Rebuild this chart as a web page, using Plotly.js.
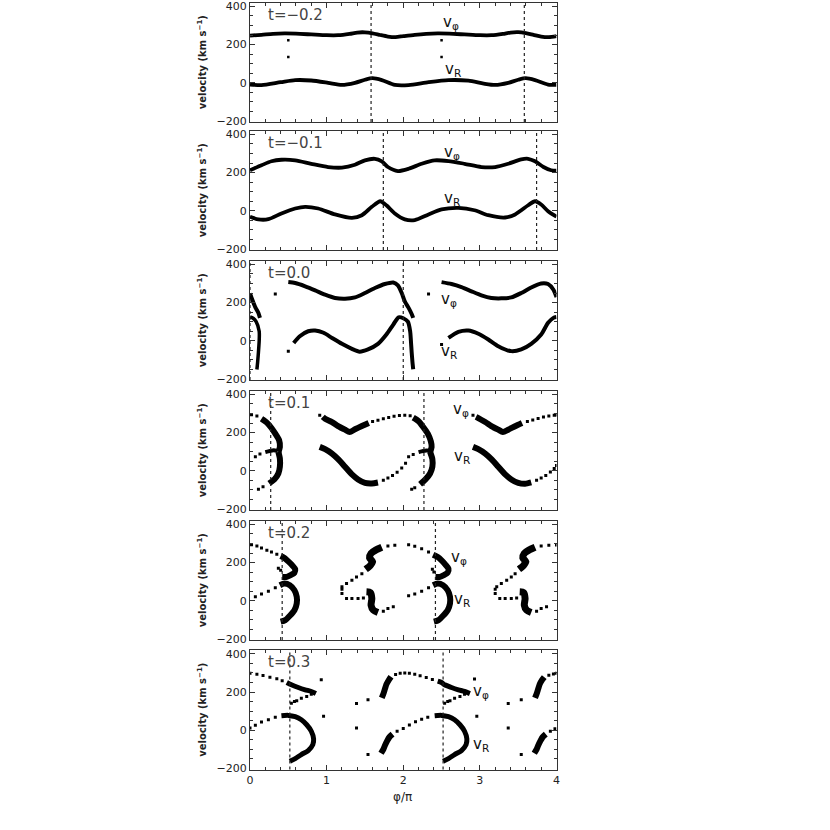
<!DOCTYPE html>
<html>
<head>
<meta charset="utf-8">
<script src="https://cdn.plot.ly/plotly-3.0.1.min.js"></script>
<style>html,body{margin:0;padding:0;background:#fff;}#chart{width:830px;height:830px;}</style>
</head>
<body>
<div id="chart"></div>
<script>
// ---------------- DATA ----------------
const panelLabels = ["t=\u22120.2", "t=\u22120.1", "t=0.0", "t=0.1", "t=0.2", "t=0.3"];
const xTickVals = [0, 1, 2, 3, 4];
const yTickVals = [-200, 0, 200, 400];
const vlineX = [[1.58, 3.58], [1.74, 3.74], [0.0, 2.0], [0.27, 2.27], [0.42, 2.42], [0.52, 2.52]];

// panel 1 (t=-0.2)
const p1_vphi_x = [0,0.15,0.3,0.45,0.6,0.8,1.0,1.15,1.3,1.4,1.5,1.6,1.7,1.8,1.9,2.0,2.15,2.3,2.45,2.6,2.8,3.0,3.15,3.3,3.4,3.5,3.6,3.7,3.8,3.9,4.0];
const p1_vphi_y = [247,251,256,258,257,253,249,249,256,263,264,259,250,242,239,244,251,256,258,257,253,249,249,256,263,265,260,251,242,239,244];
const p1_vR_x = [0,0.15,0.4,0.59,0.8,1.02,1.2,1.37,1.5,1.6,1.72,1.89,2.07,2.33,2.59,2.85,3.05,3.2,3.37,3.5,3.6,3.72,3.89,4.0];
const p1_vR_y = [-9,-12,3,14,12,0,-11,0,16,24,14,-11,-12,3,14,11,-4,-11,0,16,24,14,-9,-11];
const p1_dots_x = [0.5,0.5,2.5,2.5];
const p1_dots_y = [222,135,222,135];

// panel 2 (t=-0.1)
const p2_vphi_x = [0,0.15,0.28,0.41,0.59,0.8,1.02,1.2,1.37,1.5,1.63,1.72,1.8,1.93,2.07,2.24,2.41,2.59,2.8,3.02,3.2,3.37,3.54,3.63,3.72,3.83,3.93,4.0];
const p2_vphi_y = [212,238,259,267,264,246,229,226,241,264,272,259,229,208,220,246,264,260,246,229,229,246,269,272,259,229,212,210];
const p2_vR_x = [0,0.11,0.24,0.41,0.59,0.72,0.89,1.11,1.33,1.46,1.59,1.7,1.78,1.89,2.02,2.15,2.33,2.5,2.72,2.93,3.11,3.33,3.46,3.63,3.72,3.8,3.89,4.0];
const p2_vR_y = [-31,-45,-44,-14,12,21,12,-19,-37,-23,21,50,29,-14,-45,-49,-19,7,15,3,-23,-35,-19,29,50,33,-2,-31];

// panel 3 (t=0.0)
const p3_vphi_a_x = [0,0.03,0.07,0.11,0.13];
const p3_vphi_a_y = [248,215,175,145,120];
const p3_vR_a_x = [0,0.04,0.08,0.12,0.12,0.11,0.1,0.09];
const p3_vR_a_y = [125,118,100,50,0,-60,-110,-150];
const p3_vphi_b_x = [0.5,0.59,0.72,0.85,0.98,1.11,1.24,1.37,1.5,1.63,1.76,1.87,1.93,1.98,2.02,2.07,2.11,2.13];
const p3_vphi_b_y = [307,302,285,264,241,224,220,227,250,276,297,305,290,250,206,172,140,120];
const p3_vR_b_x = [0.57,0.65,0.76,0.85,0.96,1.07,1.2,1.33,1.43,1.54,1.67,1.78,1.87,1.94,2.0,2.06,2.09,2.1,2.11,2.12,2.13];
const p3_vR_b_y = [-11,24,50,54,42,15,-16,-42,-57,-45,-16,33,85,123,118,100,50,0,-60,-110,-149];
const p3_vphi_c_x = [2.5,2.63,2.76,2.89,3.02,3.15,3.28,3.41,3.54,3.67,3.8,3.89,3.96,4.0];
const p3_vphi_c_y = [307,297,281,259,238,224,222,227,250,279,300,297,267,228];
const p3_vR_c_x = [2.59,2.72,2.85,2.98,3.11,3.24,3.41,3.54,3.67,3.8,3.89,3.96,4.0];
const p3_vR_c_y = [15,47,54,37,7,-28,-54,-45,-16,33,94,120,125];
const p3_dots_x = [0.33,0.5,2.33,2.5];
const p3_dots_y = [245,-54,245,-19];

// panel 4 (t=0.1)
const p4_b1_phi_x = [0.15,0.22,0.28,0.33,0.38,0.39,0.37];
const p4_b1_phi_y = [272,252,224,194,160,125,99];
const p4_b1_R_x = [0.37,0.39,0.39,0.37,0.32,0.25];
const p4_b1_R_y = [99,64,21,-14,-44,-66];
const p4_b1_br_x = [0.2,0.26,0.31,0.36];
const p4_b1_br_y = [98,104,107,104];
const p4_b1_dots_x = [0.02,0.09,0.17,0.11,0.07,0.13];
const p4_b1_dots_y = [293,286,-83,-96,73,88];
const p4_m1_phi_x = [0.95,0.98,1.07,1.15,1.24,1.3,1.37,1.46,1.55];
const p4_m1_phi_y = [282,272,255,234,215,203,217,234,250];
const p4_m1_phi_dots_x = [0.91,1.6,1.67,1.74,1.81,1.88,1.95,2.02,2.09];
const p4_m1_phi_dots_y = [290,258,264,272,279,285,289,290,288];
const p4_m1_R_x = [0.91,0.98,1.07,1.15,1.24,1.33,1.41,1.5,1.59,1.67];
const p4_m1_R_y = [125,113,90,61,21,-19,-45,-63,-66,-61];
const p4_m1_R_dots_x = [1.74,1.8,1.86,1.92,1.98,2.03,2.07,2.13];
const p4_m1_R_dots_y = [-50,-37,-24,-8,15,40,73,85];
const p4_b2_phi_x = [2.13,2.2,2.26,2.32,2.36,2.37,2.35];
const p4_b2_phi_y = [278,259,229,194,154,125,99];
const p4_b2_R_x = [2.35,2.38,2.38,2.35,2.29,2.22];
const p4_b2_R_y = [99,61,21,-14,-45,-70];
const p4_b2_br_x = [2.2,2.26,2.31,2.35];
const p4_b2_br_y = [98,104,106,102];
const p4_b2_dots_x = [2.15,2.11];
const p4_b2_dots_y = [-89,-96];
const p4_m2_phi_x = [2.95,2.98,3.07,3.15,3.24,3.3,3.37,3.46,3.55];
const p4_m2_phi_y = [282,276,255,234,215,203,215,233,250];
const p4_m2_phi_dots_x = [2.91,3.62,3.69,3.76,3.83,3.9,3.97,4.0];
const p4_m2_phi_dots_y = [290,258,266,274,281,286,290,292];
const p4_m2_R_x = [2.91,2.98,3.07,3.15,3.24,3.33,3.41,3.5,3.59,3.67];
const p4_m2_R_y = [125,113,90,61,21,-19,-45,-63,-68,-61];
const p4_m2_R_dots_x = [3.74,3.8,3.86,3.92,3.97,4.0];
const p4_m2_R_dots_y = [-50,-38,-24,-6,12,28];

// panel 5 (t=0.2)
const p5_l1_phi_dots_x = [0.02,0.09,0.15,0.22,0.28,0.35,0.37,0.4];
const p5_l1_phi_dots_y = [293,286,276,265,255,243,170,160];
const p5_l1_phi_x = [0.4,0.45,0.5,0.55,0.59,0.58,0.53,0.48,0.42];
const p5_l1_phi_y = [234,224,206,186,165,147,134,125,125];
const p5_l1_R_dots_x = [0.07,0.15,0.24,0.33];
const p5_l1_R_dots_y = [21,35,50,68];
const p5_l1_R_x = [0.39,0.45,0.52,0.58,0.61,0.61,0.58,0.52,0.46,0.4];
const p5_l1_R_y = [81,90,81,55,21,-14,-49,-78,-101,-109];
const p5_m1_dots_x = [1.2,1.26,1.33,1.39,1.46,1.8,1.89,1.2,1.2,1.26,1.33,1.41,1.48,1.74,1.8,1.87];
const p5_m1_dots_y = [73,90,107,125,142,286,290,61,38,12,12,12,15,-54,-40,-31];
const p5_m1_phi_x = [1.51,1.57,1.6,1.56,1.58,1.64,1.72];
const p5_m1_phi_y = [165,185,205,225,248,265,280];
const p5_m1_R_x = [1.52,1.57,1.59,1.58,1.61,1.67];
const p5_m1_R_y = [47,43,12,-23,-49,-61];
const p5_l2_phi_dots_x = [2.07,2.15,2.24,2.33,2.38,2.4];
const p5_l2_phi_dots_y = [293,285,272,255,165,150];
const p5_l2_phi_x = [2.39,2.45,2.5,2.55,2.59,2.58,2.53,2.48,2.42];
const p5_l2_phi_y = [241,229,212,189,168,147,134,125,125];
const p5_l2_R_dots_x = [2.07,2.15,2.24,2.33];
const p5_l2_R_dots_y = [26,36,50,68];
const p5_l2_R_x = [2.39,2.45,2.52,2.58,2.61,2.61,2.58,2.52,2.46,2.4];
const p5_l2_R_y = [81,90,81,55,21,-14,-49,-78,-101,-109];
const p5_m2_dots_x = [3.22,3.28,3.35,3.41,3.46,3.8,3.9,4.0,3.2,3.2,3.26,3.33,3.41,3.48,3.74,3.8,3.87];
const p5_m2_dots_y = [73,90,107,125,142,286,290,292,61,38,12,12,12,15,-54,-40,-31];
const p5_m2_phi_x = [3.51,3.57,3.6,3.56,3.58,3.64,3.72];
const p5_m2_phi_y = [165,185,205,225,248,265,280];
const p5_m2_R_x = [3.52,3.57,3.59,3.58,3.61,3.67];
const p5_m2_R_y = [47,43,12,-23,-49,-61];

// panel 6 (t=0.3)
const p6_a1_phi_dots_x = [0,0.09,0.17,0.26,0.35,0.42,0.54,0.58,0.61,0.67,0.74,0.8];
const p6_a1_phi_dots_y = [298,293,286,278,269,259,142,150,154,168,177,189];
const p6_a1_phi_x = [0.48,0.54,0.63,0.72,0.8,0.86];
const p6_a1_phi_y = [250,238,224,212,203,192];
const p6_a1_R_dots_x = [0,0.07,0.15,0.24,0.33];
const p6_a1_R_dots_y = [12,26,43,55,68];
const p6_a1_R_x = [0.41,0.5,0.59,0.67,0.74,0.8,0.83,0.82,0.76,0.67,0.59,0.52];
const p6_a1_R_y = [76,78,71,55,29,-5,-45,-75,-106,-127,-148,-162];
const p6_iso_x = [0.93,0.96,1.39,1.39,1.54,1.54,2.93,2.96,3.37,3.37,3.54,3.54];
const p6_iso_y = [264,73,140,12,160,-127,268,73,140,12,160,-127];
const p6_b1_phi_x = [1.72,1.74,1.76,1.78,1.81,1.84];
const p6_b1_phi_y = [170,190,215,240,262,280];
const p6_b1_phi_dots_x = [1.9,1.96,2.02,2.08,2.15,2.22,2.3,2.38,2.54,2.58,2.61,2.67,2.74,2.8];
const p6_b1_phi_dots_y = [292,298,300,298,293,285,276,266,142,150,154,168,177,189];
const p6_a2_phi_x = [2.45,2.5,2.54,2.63,2.72,2.8,2.87];
const p6_a2_phi_y = [257,250,238,224,212,203,192];
const p6_b1_R_x = [1.71,1.74,1.76,1.79,1.82,1.86];
const p6_b1_R_y = [-120,-100,-80,-55,-35,-20];
const p6_b1_R_dots_x = [1.92,2.0,2.08,2.16,2.24,2.32];
const p6_b1_R_dots_y = [-5,10,28,45,58,68];
const p6_a2_R_x = [2.41,2.5,2.59,2.67,2.74,2.8,2.83,2.82,2.76,2.67,2.59,2.52];
const p6_a2_R_y = [76,78,71,55,29,-5,-45,-75,-106,-127,-148,-162];
const p6_b2_phi_x = [3.72,3.74,3.76,3.78,3.81,3.84];
const p6_b2_phi_y = [170,190,215,240,262,278];
const p6_b2_R_x = [3.71,3.74,3.76,3.79,3.82,3.86];
const p6_b2_R_y = [-120,-100,-80,-55,-35,-20];
const p6_b2_dots_x = [3.9,3.96,4.0,3.92,3.98];
const p6_b2_dots_y = [288,294,298,-5,8];

// ---------------- BUILD ----------------
const W = 830, H = 830;
const xL = 250, xR = 556.5;
const panelTop = [2.5, 130.5, 260.5, 390.5, 520.5, 650];
const panelH = 119.5;
const FONT = "DejaVu Sans, Liberation Sans, sans-serif";

const traces = [];
function axn(prefix, p) { return prefix + (p === 1 ? "" : p); }
function line(p, xs, ys, w) {
  traces.push({type: "scatter", mode: "lines", x: xs, y: ys, xaxis: axn("x", p), yaxis: axn("y", p),
    line: {color: "#000", width: w, shape: "spline", smoothing: 0.7}, hoverinfo: "skip", showlegend: false});
}
function dots(p, xs, ys, s) {
  traces.push({type: "scatter", mode: "markers", x: xs, y: ys, xaxis: axn("x", p), yaxis: axn("y", p),
    marker: {color: "#000", size: s, symbol: "square"}, hoverinfo: "skip", showlegend: false});
}

// panel 1
line(1, p1_vphi_x, p1_vphi_y, 3.8); line(1, p1_vR_x, p1_vR_y, 3.8); dots(1, p1_dots_x, p1_dots_y, 2.5);
// panel 2
line(2, p2_vphi_x, p2_vphi_y, 3.8); line(2, p2_vR_x, p2_vR_y, 3.8);
// panel 3
line(3, p3_vphi_a_x, p3_vphi_a_y, 4); line(3, p3_vR_a_x, p3_vR_a_y, 3.5);
line(3, p3_vphi_b_x, p3_vphi_b_y, 4); line(3, p3_vR_b_x, p3_vR_b_y, 4);
line(3, p3_vphi_c_x, p3_vphi_c_y, 4); line(3, p3_vR_c_x, p3_vR_c_y, 4);
dots(3, p3_dots_x, p3_dots_y, 3);
// panel 4
line(4, p4_b1_phi_x, p4_b1_phi_y, 6); line(4, p4_b1_R_x, p4_b1_R_y, 6); line(4, p4_b1_br_x, p4_b1_br_y, 4);
dots(4, p4_b1_dots_x, p4_b1_dots_y, 3);
line(4, p4_m1_phi_x, p4_m1_phi_y, 6); dots(4, p4_m1_phi_dots_x, p4_m1_phi_dots_y, 3);
line(4, p4_m1_R_x, p4_m1_R_y, 6); dots(4, p4_m1_R_dots_x, p4_m1_R_dots_y, 3);
line(4, p4_b2_phi_x, p4_b2_phi_y, 6); line(4, p4_b2_R_x, p4_b2_R_y, 6); line(4, p4_b2_br_x, p4_b2_br_y, 4);
dots(4, p4_b2_dots_x, p4_b2_dots_y, 3);
line(4, p4_m2_phi_x, p4_m2_phi_y, 6); dots(4, p4_m2_phi_dots_x, p4_m2_phi_dots_y, 3);
line(4, p4_m2_R_x, p4_m2_R_y, 6); dots(4, p4_m2_R_dots_x, p4_m2_R_dots_y, 3);
// panel 5
dots(5, p5_l1_phi_dots_x, p5_l1_phi_dots_y, 3); line(5, p5_l1_phi_x, p5_l1_phi_y, 6);
dots(5, p5_l1_R_dots_x, p5_l1_R_dots_y, 3); line(5, p5_l1_R_x, p5_l1_R_y, 6);
dots(5, p5_m1_dots_x, p5_m1_dots_y, 3); line(5, p5_m1_phi_x, p5_m1_phi_y, 7); line(5, p5_m1_R_x, p5_m1_R_y, 7);
dots(5, p5_l2_phi_dots_x, p5_l2_phi_dots_y, 3); line(5, p5_l2_phi_x, p5_l2_phi_y, 6);
dots(5, p5_l2_R_dots_x, p5_l2_R_dots_y, 3); line(5, p5_l2_R_x, p5_l2_R_y, 6);
dots(5, p5_m2_dots_x, p5_m2_dots_y, 3); line(5, p5_m2_phi_x, p5_m2_phi_y, 7); line(5, p5_m2_R_x, p5_m2_R_y, 7);
// panel 6
dots(6, p6_a1_phi_dots_x, p6_a1_phi_dots_y, 3); line(6, p6_a1_phi_x, p6_a1_phi_y, 5);
dots(6, p6_a1_R_dots_x, p6_a1_R_dots_y, 3); line(6, p6_a1_R_x, p6_a1_R_y, 5);
dots(6, p6_iso_x, p6_iso_y, 3);
line(6, p6_b1_phi_x, p6_b1_phi_y, 6); dots(6, p6_b1_phi_dots_x, p6_b1_phi_dots_y, 3); line(6, p6_a2_phi_x, p6_a2_phi_y, 5);
line(6, p6_b1_R_x, p6_b1_R_y, 6); dots(6, p6_b1_R_dots_x, p6_b1_R_dots_y, 3); line(6, p6_a2_R_x, p6_a2_R_y, 5);
line(6, p6_b2_phi_x, p6_b2_phi_y, 6); line(6, p6_b2_R_x, p6_b2_R_y, 6); dots(6, p6_b2_dots_x, p6_b2_dots_y, 3);

const layout = {
  width: W, height: H, margin: {l: 0, r: 0, t: 0, b: 0},
  paper_bgcolor: "#fff", plot_bgcolor: "#fff", showlegend: false,
  shapes: [], annotations: []
};
const vPhiPos = [[441, 22], [442, 152], [439, 299], [451, 409], [449, 557], [471, 691]];
const vRPos = [[443, 70], [442, 198], [439, 351], [452, 456], [452, 599], [471, 744]];

for (let p = 1; p <= 6; p++) {
  const top = panelTop[p - 1];
  const tickfont = {family: FONT, size: 11, color: "#222"};
  layout[axn("xaxis", p)] = {
    domain: [xL / W, xR / W], anchor: axn("y", p), range: [0, 4],
    tickmode: "array", tickvals: xTickVals, ticks: "inside", ticklen: 5, tickwidth: 1, tickcolor: "#333",
    showline: true, linecolor: "#333", linewidth: 1, mirror: "ticks",
    showgrid: false, zeroline: false, showticklabels: p === 6, tickfont: tickfont,
    minor: {dtick: 0.2, tick0: 0, ticks: "inside", ticklen: 3, tickcolor: "#333", showgrid: false}
  };
  layout[axn("yaxis", p)] = {
    domain: [1 - (top + panelH) / H, 1 - top / H], anchor: axn("x", p), range: [-205, 420],
    tickmode: "array", tickvals: yTickVals, ticks: "inside", ticklen: 5, tickwidth: 1, tickcolor: "#333",
    showline: true, linecolor: "#333", linewidth: 1, mirror: "ticks",
    showgrid: false, zeroline: false, tickfont: tickfont,
    minor: {dtick: 50, tick0: 0, ticks: "inside", ticklen: 3, tickcolor: "#333", showgrid: false}
  };
  vlineX[p - 1].forEach(function (xv) {
    layout.shapes.push({type: "line", xref: axn("x", p), yref: axn("y", p) + " domain", x0: xv, x1: xv, y0: 0, y1: 1,
      line: {color: "#222", width: 1.2, dash: "dot"}});
  });
  layout.annotations.push({xref: "paper", yref: "paper", x: 266 / W, y: 1 - (top + 12) / H, xanchor: "left", yanchor: "middle",
    text: panelLabels[p - 1], showarrow: false, font: {family: FONT, size: 15, color: "#444"}});
  layout.annotations.push({xref: "paper", yref: "paper", x: 202 / W, y: 1 - (top + panelH / 2) / H, xanchor: "center", yanchor: "middle",
    textangle: -90, text: "<b>velocity (km s<sup>\u22121</sup>)</b>", showarrow: false, font: {family: FONT, size: 10, color: "#222"}});
  layout.annotations.push({xref: "paper", yref: "paper", x: vPhiPos[p - 1][0] / W, y: 1 - vPhiPos[p - 1][1] / H, xanchor: "left", yanchor: "middle",
    text: "v<sub>\u03c6</sub>", showarrow: false, font: {family: FONT, size: 15, color: "#111"}});
  layout.annotations.push({xref: "paper", yref: "paper", x: vRPos[p - 1][0] / W, y: 1 - vRPos[p - 1][1] / H, xanchor: "left", yanchor: "middle",
    text: "v<sub>R</sub>", showarrow: false, font: {family: FONT, size: 15, color: "#111"}});
}
layout.annotations.push({xref: "paper", yref: "paper", x: 402 / W, y: 1 - 797 / H, xanchor: "center", yanchor: "middle",
  text: "\u03c6/\u03c0", showarrow: false, font: {family: FONT, size: 12, color: "#222"}});

Plotly.newPlot("chart", traces, layout, {displayModeBar: false, staticPlot: true});
</script>
</body>
</html>
